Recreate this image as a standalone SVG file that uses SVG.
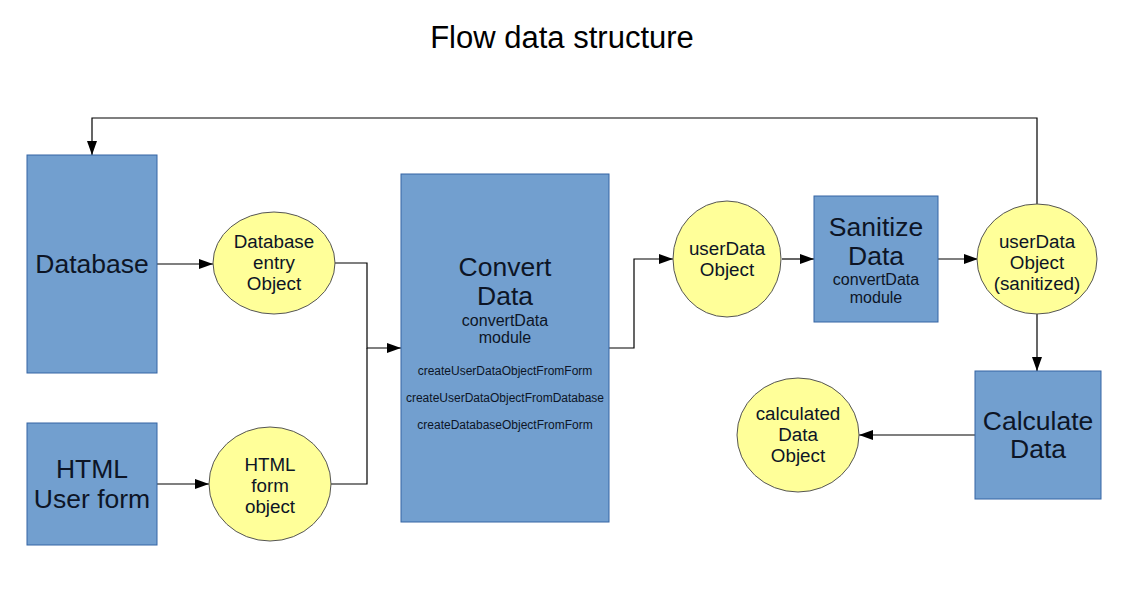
<svg xmlns="http://www.w3.org/2000/svg" width="1123" height="596" viewBox="0 0 1123 596">
  <defs>
    <marker id="arrow" viewBox="0 0 14 10" refX="14" refY="5" markerWidth="14" markerHeight="10" markerUnits="userSpaceOnUse" orient="auto">
      <path d="M0,0 L14,5 L0,10 Z" fill="#000"/>
    </marker>
    <style>
      text { font-family: "Liberation Sans", Arial, sans-serif; fill: #0d1526; text-anchor: middle; }
      .box { fill: #729fcf; stroke: #3465a4; stroke-width: 1; }
      .obj { fill: #ffff99; stroke: #555; stroke-width: 1; }
      .big { font-size: 26.5px; }
      .mid { font-size: 18.8px; }
      .sub { font-size: 16px; }
      .fn { font-size: 12px; }
      .title { font-size: 31px; fill: #000; }
      .conn { fill: none; stroke: #000; stroke-width: 1.2; }
    </style>
  </defs>
  <rect width="1123" height="596" fill="#fff"/>

  <text class="title" x="562" y="48">Flow data structure</text>

  <g id="connectors">
    <path class="conn" d="M1037,204 V118 H92 V155" marker-end="url(#arrow)"/>
    <path class="conn" d="M157,264 H213" marker-end="url(#arrow)"/>
    <path class="conn" d="M334,263 H367 V348 H401" marker-end="url(#arrow)"/>
    <path class="conn" d="M157,484 H209" marker-end="url(#arrow)"/>
    <path class="conn" d="M331,484 H367 V348"/>
    <path class="conn" d="M609,348 H634 V259 H673" marker-end="url(#arrow)"/>
    <path class="conn" d="M782,259 H814" marker-end="url(#arrow)"/>
    <path class="conn" d="M938,259 H978" marker-end="url(#arrow)"/>
    <path class="conn" d="M1037,314 V371" marker-end="url(#arrow)"/>
    <path class="conn" d="M975,435 H859" marker-end="url(#arrow)"/>
  </g>

  <g id="database">
    <rect class="box" x="27" y="155" width="130" height="218"/>
    <text class="big" x="92" y="273">Database</text>
  </g>

  <g id="html-user-form">
    <rect class="box" x="27" y="423" width="130" height="122"/>
    <text class="big" x="92" y="478">HTML</text>
    <text class="big" x="92" y="508">User form</text>
  </g>

  <g id="database-entry-object">
    <ellipse class="obj" cx="274" cy="263" rx="61" ry="51"/>
    <text class="mid" x="274" y="248">Database</text>
    <text class="mid" x="274" y="269">entry</text>
    <text class="mid" x="274" y="290">Object</text>
  </g>

  <g id="html-form-object">
    <ellipse class="obj" cx="270" cy="484" rx="61" ry="57"/>
    <text class="mid" x="270" y="471">HTML</text>
    <text class="mid" x="270" y="492">form</text>
    <text class="mid" x="270" y="513">object</text>
  </g>

  <g id="convert-data">
    <rect class="box" x="401" y="174" width="208" height="348"/>
    <text class="big" x="505" y="276">Convert</text>
    <text class="big" x="505" y="305">Data</text>
    <text class="sub" x="505" y="326">convertData</text>
    <text class="sub" x="505" y="343">module</text>
    <text class="fn" x="505" y="375">createUserDataObjectFromForm</text>
    <text class="fn" x="505" y="402">createUserDataObjectFromDatabase</text>
    <text class="fn" x="505" y="429">createDatabaseObjectFromForm</text>
  </g>

  <g id="userdata-object">
    <ellipse class="obj" cx="727" cy="259" rx="54" ry="58"/>
    <text class="mid" x="727" y="255">userData</text>
    <text class="mid" x="727" y="276">Object</text>
  </g>

  <g id="sanitize-data">
    <rect class="box" x="814" y="196" width="124" height="126"/>
    <text class="big" x="876" y="236">Sanitize</text>
    <text class="big" x="876" y="265">Data</text>
    <text class="sub" x="876" y="285">convertData</text>
    <text class="sub" x="876" y="303">module</text>
  </g>

  <g id="userdata-object-sanitized">
    <ellipse class="obj" cx="1037" cy="259" rx="60" ry="55"/>
    <text class="mid" x="1037" y="248">userData</text>
    <text class="mid" x="1037" y="269">Object</text>
    <text class="mid" x="1037" y="290">(sanitized)</text>
  </g>

  <g id="calculate-data">
    <rect class="box" x="975" y="371" width="126" height="128"/>
    <text class="big" x="1038" y="430">Calculate</text>
    <text class="big" x="1038" y="458">Data</text>
  </g>

  <g id="calculated-data-object">
    <ellipse class="obj" cx="798" cy="435" rx="61" ry="57"/>
    <text class="mid" x="798" y="420">calculated</text>
    <text class="mid" x="798" y="441">Data</text>
    <text class="mid" x="798" y="462">Object</text>
  </g>
</svg>
